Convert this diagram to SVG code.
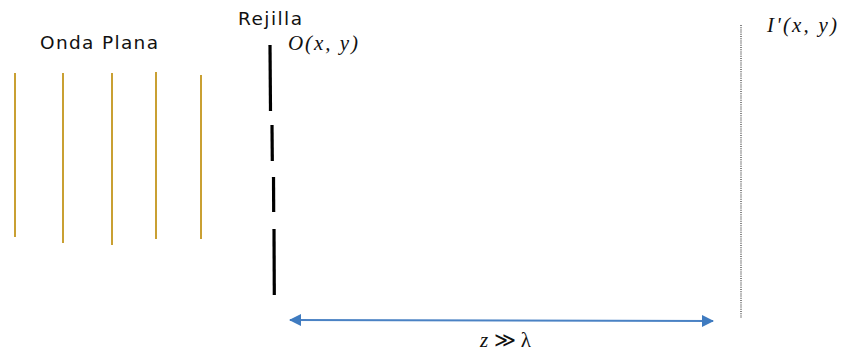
<svg xmlns="http://www.w3.org/2000/svg" width="841" height="354" viewBox="0 0 841 354">
<style>
.lbl{font-family:"DejaVu Sans","Liberation Sans",sans-serif;font-size:18.5px;fill:#111}
.math{font-family:"Liberation Serif","DejaVu Serif",serif;font-style:italic;font-size:21px;fill:#111}
.wave{stroke:#c9a033;stroke-width:2;fill:none}
.slit{stroke:#000;stroke-width:3.2;fill:none}
.screen{stroke:#666;stroke-width:1.6;stroke-dasharray:1 1.2;fill:none}
.dim{stroke:#4a82c4;stroke-width:2;fill:none}
</style>
<defs>
<marker id="ah" viewBox="0 0 12 12" refX="11" refY="6" markerWidth="12" markerHeight="12" markerUnits="userSpaceOnUse" orient="auto-start-reverse">
<path d="M0,0 L12,6 L0,12 Z" fill="#3f7bc0"/>
</marker>
</defs>
<rect width="841" height="354" fill="#fff"/>
<g id="onda-plana">
<line class="wave" x1="15" y1="73" x2="15" y2="237"/>
<line class="wave" x1="63" y1="73" x2="63" y2="243"/>
<line class="wave" x1="112" y1="73" x2="112" y2="245"/>
<line class="wave" x1="156" y1="72" x2="156" y2="239"/>
<line class="wave" x1="201" y1="75" x2="201" y2="239"/>
<text class="lbl" x="40" y="49" textLength="118" lengthAdjust="spacing">Onda Plana</text>
</g>
<g id="rejilla">
<line class="slit" x1="270" y1="45" x2="270.5" y2="111"/>
<line class="slit" x1="272" y1="125" x2="272.3" y2="161"/>
<line class="slit" x1="273.5" y1="177" x2="273.7" y2="212"/>
<line class="slit" x1="274" y1="229" x2="274.3" y2="295"/>
<text class="lbl" x="238" y="25" textLength="64" lengthAdjust="spacing">Rejilla</text>
<text class="math" x="288" y="50" textLength="70" lengthAdjust="spacing">O(x, y)</text>
</g>
<g id="pantalla">
<line class="screen" x1="741" y1="25" x2="741" y2="318"/>
<text class="math" x="767" y="32" textLength="70" lengthAdjust="spacing">I'(x, y)</text>
</g>
<g id="connectors">
<line class="dim" x1="290" y1="320" x2="713" y2="321" marker-start="url(#ah)" marker-end="url(#ah)"/>
<text class="math" x="480" y="347" style="font-style:normal" textLength="51" lengthAdjust="spacing"><tspan style="font-style:italic">z</tspan> ≫ λ</text>
</g>
</svg>
